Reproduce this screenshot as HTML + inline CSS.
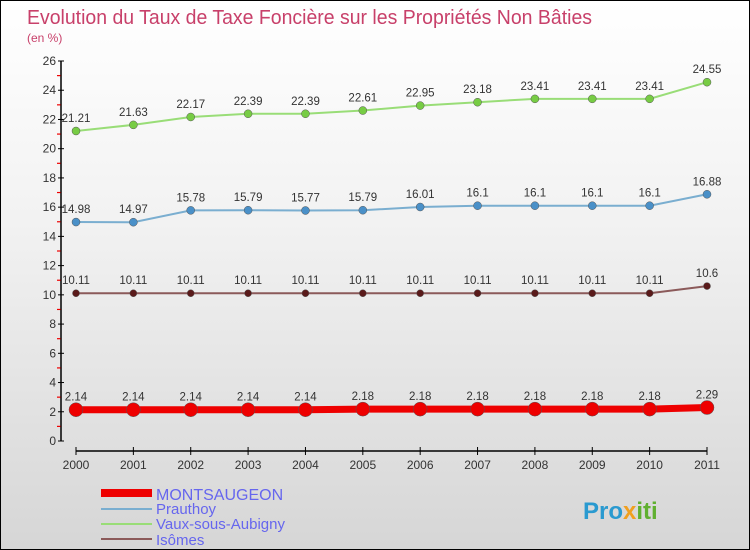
<!DOCTYPE html>
<html><head><meta charset="utf-8"><style>
body{margin:0}
#c{width:750px;height:550px;position:relative;overflow:hidden;background:linear-gradient(#ffffff 0%,#f2f2f2 40%,#d6d6d6 100%);box-sizing:border-box;border:1px solid #000;font-family:"Liberation Sans",sans-serif}
svg{position:absolute;left:0;top:0}
</style></head><body>
<div id="c">
<svg id="s" width="750" height="550" xmlns="http://www.w3.org/2000/svg">
<text x="26" y="23" font-size="20" fill="#c8406a" textLength="565" lengthAdjust="spacingAndGlyphs">Evolution du Taux de Taxe Foncière sur les Propriétés Non Bâties</text>
<text x="26" y="41" font-size="12" fill="#c8406a">(en %)</text>
<g id="axes"></g><g id="series"></g>
<g>
<rect x="100" y="488" width="51" height="8" fill="#e00"/>
<text x="155" y="499" font-size="16" fill="#6666ee">MONTSAUGEON</text>
<line x1="100" y1="508" x2="151" y2="508" stroke="#7aaed0" stroke-width="2"/>
<text x="155" y="513" font-size="15" fill="#6666ee">Prauthoy</text>
<line x1="100" y1="523" x2="151" y2="523" stroke="#99dd77" stroke-width="2"/>
<text x="155" y="528" font-size="15" fill="#6666ee">Vaux-sous-Aubigny</text>
<line x1="100" y1="538" x2="151" y2="538" stroke="#8b5a5a" stroke-width="2"/>
<text x="155" y="544" font-size="15" fill="#6666ee">Isômes</text>
</g>
<text x="582" y="518" font-size="24" font-weight="bold" fill="#2a9ad0">Pro<tspan fill="#f0a020">x</tspan><tspan fill="#60b030">iti</tspan></text>
</svg></div>
<script>
const years=[2000,2001,2002,2003,2004,2005,2006,2007,2008,2009,2010,2011];
const montsaugeon=[2.14,2.14,2.14,2.14,2.14,2.18,2.18,2.18,2.18,2.18,2.18,2.29];
const prauthoy=[14.98,14.97,15.78,15.79,15.77,15.79,16.01,16.1,16.1,16.1,16.1,16.88];
const vaux=[21.21,21.63,22.17,22.39,22.39,22.61,22.95,23.18,23.41,23.41,23.41,24.55];
const isomes=[10.11,10.11,10.11,10.11,10.11,10.11,10.11,10.11,10.11,10.11,10.11,10.6];
const yTicks=[0,2,4,6,8,10,12,14,16,18,20,22,24,26];
const NS="http://www.w3.org/2000/svg";
const X=i=>75+i*(706-75)/(years.length-1);
const Y=v=>440-v*(380/26);
function mk(t,a,p){const e=document.createElementNS(NS,t);for(const k in a)e.setAttribute(k,a[k]);p.appendChild(e);return e;}
const ax=document.getElementById('axes'),sg=document.getElementById('series');
let yl=mk('line',{x1:60,y1:Y(26),x2:60,y2:440,stroke:'#000','stroke-width':1.5},ax);


yTicks.forEach(v=>{
 mk('line',{x1:57,y1:Y(v),x2:63,y2:Y(v),stroke:'#000'},ax);
 if(v<26)mk('line',{x1:56,y1:Y(v+1),x2:59.5,y2:Y(v+1),stroke:'#e00','stroke-width':1.2},ax);
 const t=mk('text',{x:55,y:Y(v)+4,'font-size':12,fill:'#333','text-anchor':'end'},ax);t.textContent=v;
 
 
});
let xl=mk('line',{x1:75,y1:450,x2:706,y2:450,stroke:'#000','stroke-width':1.5},ax);


years.forEach((y,i)=>{
 mk('line',{x1:X(i),y1:446,x2:X(i),y2:454,stroke:'#000'},ax);
 const t=mk('text',{x:X(i),y:468,'font-size':12,fill:'#333','text-anchor':'middle'},ax);t.textContent=y;
 
 
});
function series(data,name,color,lw,r,dot){
 const g=mk('g',{},sg);
 
 
 mk('polyline',{points:data.map((v,i)=>X(i)+','+Y(v)).join(' '),fill:'none',stroke:color,'stroke-width':lw},g);
 data.forEach((v,i)=>{
  const c=mk('circle',{cx:X(i),cy:Y(v),r:r,fill:dot,stroke:'#555','stroke-width':0.5},g);
  
  
  const t=mk('text',{x:X(i),y:Y(v)-9,'font-size':11.5,fill:'#333','text-anchor':'middle'},g);t.textContent=v;
  
  
 });
}
series(vaux,'vaux','#99dd77',2,4,'#77cc44');
series(prauthoy,'prauthoy','#7aaed0',2,4,'#4a90c8');
series(isomes,'isomes','#8b5a5a',2,3.5,'#5a1a1a');
series(montsaugeon,'montsaugeon','#ee0000',7,7,'#ee0000');
</script>
</body></html>
